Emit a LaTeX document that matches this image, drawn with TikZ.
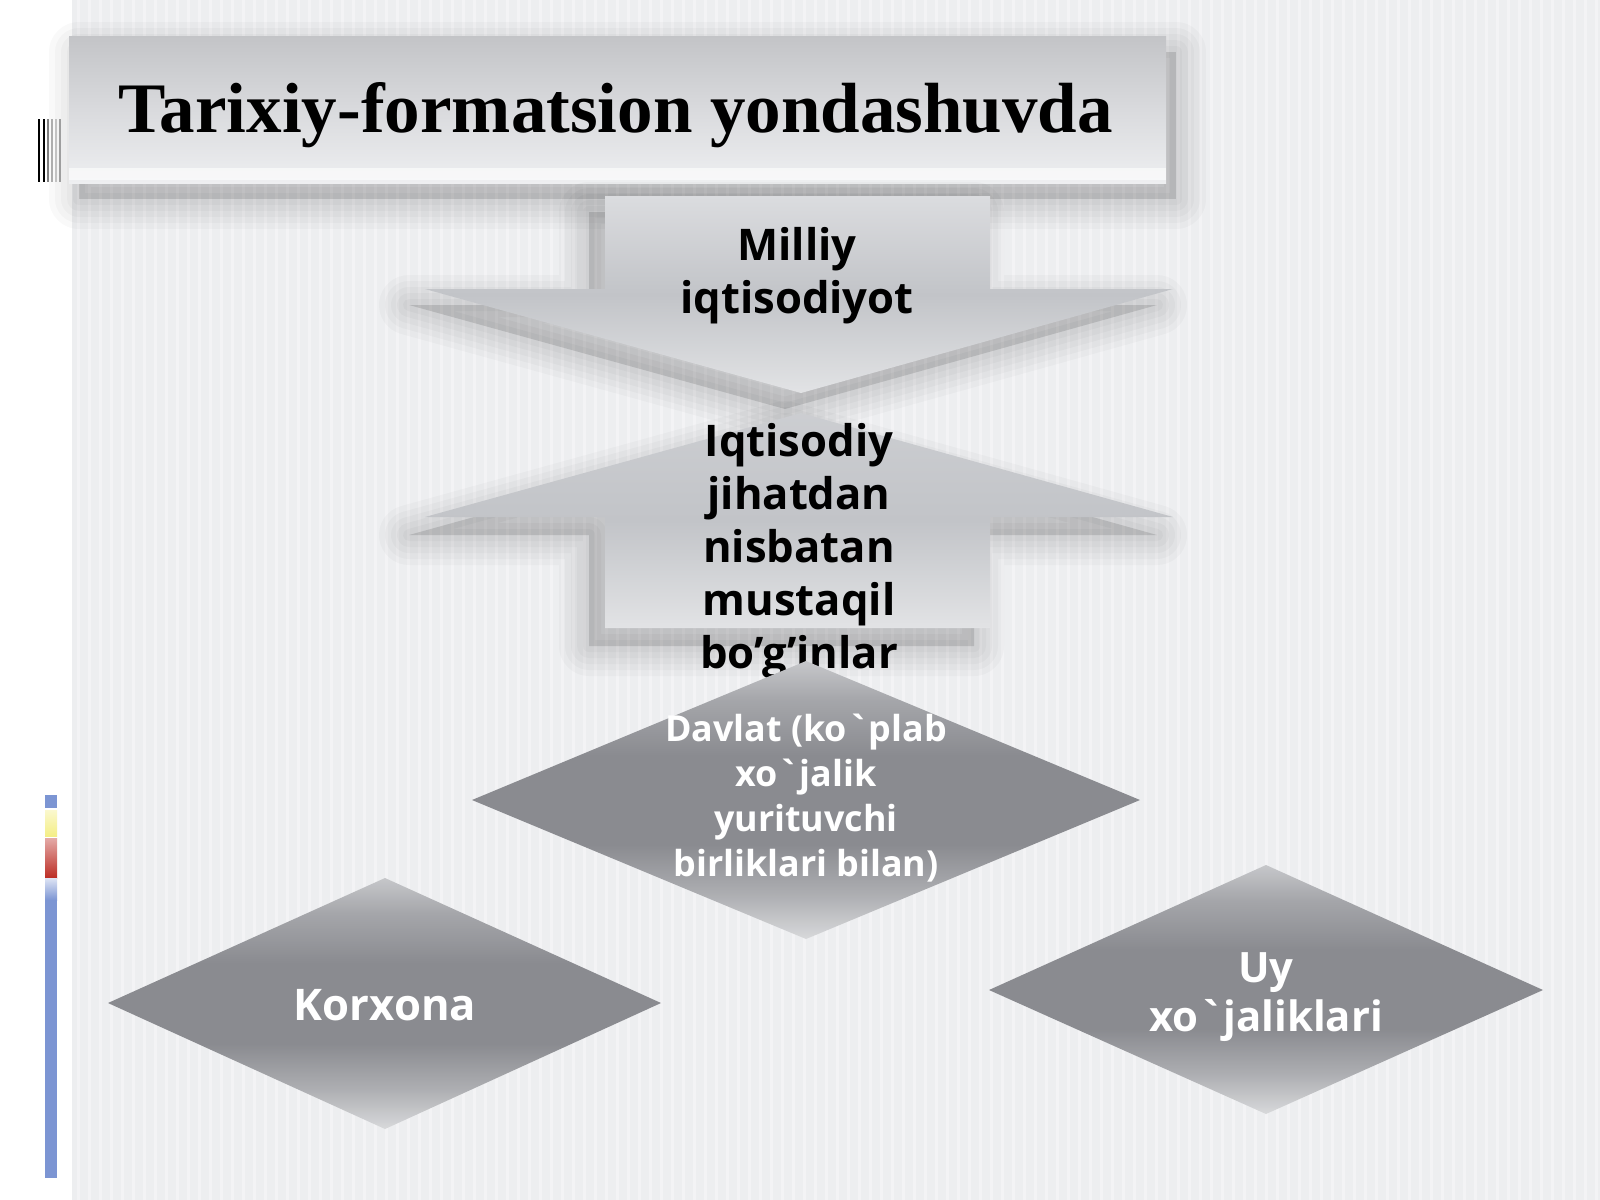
\documentclass[tikz,border=0pt]{standalone}
\usepackage{fontspec}
\usepackage{tikz}
\usetikzlibrary{positioning}
\newfontfamily\titlefont{Liberation Serif}
\newfontfamily\boxfont{Open Sans}
\definecolor{pagebg}{HTML}{EDEEF0}
\definecolor{boxtop}{HTML}{C3C4C7}
\definecolor{boxmid}{HTML}{D9DADD}
\definecolor{boxbot}{HTML}{EEEFF1}
\definecolor{arrtop}{HTML}{DBDCDF}
\definecolor{arrmid}{HTML}{C2C4C8}
\definecolor{arrbot}{HTML}{E2E3E5}
\definecolor{dmtop}{HTML}{C6C7CA}
\definecolor{dmmid}{HTML}{8A8B90}
\definecolor{dmbot}{HTML}{D8D9DB}
\definecolor{barblue}{HTML}{7C95D3}
\definecolor{baryellow}{HTML}{F4EE86}
\definecolor{barred}{HTML}{BC2C24}
\pgfdeclareverticalshading{diamondshade}{100bp}{color(0bp)=(dmbot); color(25bp)=(dmbot);
  color(33bp)=(dmmid!55!dmbot); color(42bp)=(dmmid); color(58bp)=(dmmid);
  color(68bp)=(dmmid!55!dmtop); color(75bp)=(dmtop); color(100bp)=(dmtop)}
\tikzset{
    titletext/.style = {font=\titlefont\bfseries\fontsize{20.2}{24}\selectfont,text=black,anchor=base},
    blacktext/.style = {align=center,font=\boxfont\bfseries\fontsize{12.4}{15.1}\selectfont,text=black},
    whitetext/.style = {align=center,font=\boxfont\bfseries\fontsize{12.4}{14}\selectfont,text=white},
    uywhite/.style = {align=center,font=\boxfont\bfseries\fontsize{11.9}{13.8}\selectfont,text=white},
    smallwhite/.style = {align=center,font=\boxfont\bfseries\fontsize{10.2}{12.8}\selectfont,text=white},
    boxfill/.style = {top color=boxtop,bottom color=boxbot,middle color=boxmid},
    arrowfill/.style = {top color=arrtop,bottom color=arrbot,middle color=arrmid},
    uparrowfill/.style = {top color=arrmid!60!arrtop,bottom color=arrbot,middle color=arrmid},
    diamondfill/.style = {shading=diamondshade},
}
% soft shadow: #1 shift, #2 path
\newcommand\softshadow[2]{%
  \begin{scope}[shift={#1}]
    \foreach \w in {60,48,36,24,12}{
      \draw[black,opacity=0.025,line width=\w*0.01cm,line join=round] #2;
    }
    \fill[black,opacity=0.12] #2;
  \end{scope}}
\newcommand\titlepath{(69,36) -- (1166,36) -- (1166,183) -- (69,183) -- cycle}
\newcommand\downpath{(605,196) -- (990,196) -- (990,289) -- (1173,289) -- (801,393) -- (425,289) -- (605,289) -- cycle}
\newcommand\uppath{(801,413) -- (1173,517) -- (990,517) -- (990,628) -- (605,628) -- (605,517) -- (425,517) -- cycle}

\begin{document}
\begin{tikzpicture}[x=0.01cm,y=-0.01cm]
\useasboundingbox (0,0) rectangle (1600,1200);
% page
\fill[white] (0,0) rectangle (1600,1200);
\fill[pagebg] (72,0) rectangle (1600,1200);
\foreach \sx in {78,89,...,1600}
  \draw[white,opacity=0.35,line width=0.03cm] (\sx,0) -- (\sx,1200);

% left marks
\foreach \mx/\mc in {39/black,44/black,48/gray,52/gray!60,56/gray!40,60/gray!70}
  \draw[\mc,line width=0.015cm] (\mx,119) -- (\mx,182);
\fill[barblue] (45,795) rectangle (57,808);
\shade[top color=baryellow!40,bottom color=baryellow] (45,810) rectangle (57,836);
\shade[top color=barred!40,bottom color=barred] (45,838) rectangle (57,878);
\shade[top color=barblue!25,bottom color=barblue] (45,878) rectangle (57,900);
\fill[barblue] (45,900) rectangle (57,1178);

% title
\softshadow{(10,16)}{\titlepath}
\shade[boxfill] \titlepath;
\fill[white,opacity=0.6] (69,168) rectangle (1166,180);
\node[titletext] at (616,132) (title) {Tarixiy-formatsion yondashuvda};

% arrows
\softshadow{(-16,16)}{\downpath}
\shade[arrowfill] \downpath;
\softshadow{(-16,18)}{\uppath}
\shade[uparrowfill] \uppath;
\node[blacktext] at (797,276) (milliy) {Milliy\\iqtisodiyot};
\node[blacktext] at (799,551) (bogin) {Iqtisodiy\\jihatdan\\nisbatan\\mustaqil\\bo’g’inlar};

% diamonds
\shade[diamondfill] (806,661) -- (1140,800) -- (806,939) -- (472,800) -- cycle;
\shade[diamondfill] (385,878) -- (661,1003) -- (385,1129) -- (108,1003) -- cycle;
\shade[diamondfill] (1266,865) -- (1543,990) -- (1266,1114) -- (989,990) -- cycle;
%
\node[smallwhite] at (806,798) (davlat) {Davlat (ko\textasciigrave plab\\xo\textasciigrave jalik\\yurituvchi\\birliklari bilan)};
\node[whitetext] at (385,1005) (korxona) {Korxona};
\node[uywhite] at (1266,997) (uy) {Uy\\xo\textasciigrave jaliklari};

\end{tikzpicture}
\end{document}
